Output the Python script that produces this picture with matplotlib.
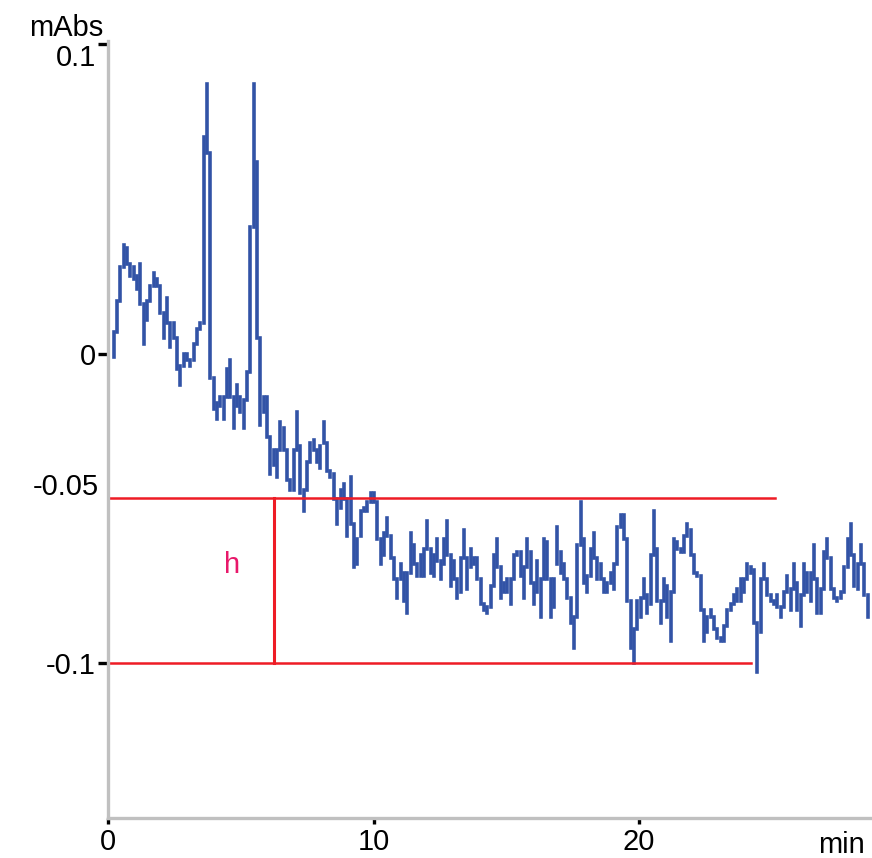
import numpy as np
import matplotlib
matplotlib.use("Agg")
import matplotlib.pyplot as plt

# baseline noise trace, drawn as min/max per screen column (units: 1e-3 mAbs)
t0 = 0.2      # min, first column
dt = 0.1258   # min per column
upper = [
    7, 17, 28, 35, 34, 29, 28, 25, 29, 16, 17, 22, 26, 24, 22,
    13, 18, 10, 10, 5, -4, 0, 0, -2, 3, 8, 10, 70, 87, 65,
    -8, -16, -14, -14, -5, -2, -14, -10, -14, -15, -6, 41, 87, 62, 5,
    -14, -14, -27, -31, -31, -22, -24, -31, -41, -31, -19, -30, -44, -35, -29,
    -28, -31, -30, -22, -29, -38, -39, -47, -44, -42, -47, -40, -55, -60, -51,
    -50, -48, -45, -45, -48, -60, -58, -53, -59, -66, -73, -68, -71, -71, -58,
    -62, -68, -65, -63, -54, -63, -65, -60, -67, -60, -54, -65, -67, -73, -66,
    -57, -66, -63, -66, -66, -73, -81, -82, -75, -65, -60, -69, -74, -73, -73,
    -65, -64, -64, -69, -60, -64, -74, -67, -73, -60, -61, -73, -73, -56, -64,
    -68, -73, -79, -85, -62, -48, -60, -72, -63, -58, -66, -68, -73, -74, -71,
    -68, -56, -52, -52, -60, -80, -89, -80, -79, -73, -78, -65, -51, -63, -80,
    -73, -75, -77, -60, -61, -63, -59, -55, -57, -65, -71, -72, -83, -85, -83,
    -85, -89, -92, -88, -83, -81, -78, -76, -73, -73, -68, -69, -70, -87, -73,
    -68, -73, -78, -80, -78, -82, -77, -72, -76, -68, -74, -78, -68, -71, -71,
    -62, -73, -76, -64, -60, -66, -76, -79, -77, -69, -60, -55, -65, -68, -62,
    -68, -78]
lower = [
    -1, 7, 17, 28, 29, 25, 24, 21, 16, 3, 11, 17, 22, 22, 13,
    5, 10, 2, 5, -5, -10, -4, -2, -4, -2, 3, 8, 10, 65, -8,
    -18, -21, -17, -21, -14, -14, -24, -17, -19, -24, -15, -6, 41, 5, -23,
    -19, -27, -39, -36, -40, -31, -31, -41, -44, -44, -31, -45, -51, -44, -35,
    -31, -35, -37, -29, -38, -40, -47, -55, -50, -47, -59, -55, -69, -68, -59,
    -51, -51, -48, -48, -60, -68, -65, -59, -66, -73, -79, -73, -80, -84, -71,
    -68, -72, -72, -72, -63, -71, -72, -67, -73, -68, -65, -75, -73, -79, -77,
    -66, -76, -69, -68, -73, -81, -83, -84, -82, -75, -69, -79, -77, -77, -81,
    -73, -65, -72, -79, -69, -74, -81, -77, -85, -73, -73, -85, -82, -68, -71,
    -73, -79, -87, -95, -85, -62, -74, -77, -72, -66, -73, -73, -77, -77, -74,
    -76, -68, -56, -60, -80, -95, -100, -89, -85, -79, -84, -81, -65, -80, -87,
    -80, -85, -93, -77, -63, -64, -64, -59, -65, -71, -72, -83, -93, -90, -85,
    -89, -92, -93, -93, -88, -83, -81, -80, -80, -77, -73, -71, -87, -103, -90,
    -73, -78, -80, -81, -82, -85, -82, -77, -83, -76, -83, -88, -78, -77, -80,
    -73, -84, -84, -76, -66, -76, -79, -80, -79, -77, -69, -65, -75, -76, -68,
    -78, -85]

# noise band markers
band_top = -0.0466
band_bottom = -0.1
band_top_end = 25.15
band_bottom_end = 24.25
h_pos = 6.25

yticks = [0.1, 0, -0.1]
ytick_labels = ["0.1", "0", "-0.1"]
xticks = [0, 10, 20]
xtick_labels = ["0", "10", "20"]

blue = "#3253a6"
red = "#ee1c25"
grey = "#c0c0c0"
font = ["Liberation Sans", "DejaVu Sans"]
fs = 21

assert len(upper) == len(lower)
t = t0 + dt * np.arange(len(upper))

fig = plt.figure(figsize=(8.72, 8.58), dpi=100)
ax = fig.add_axes([0.1243, 0.047, 0.8757, 0.905])

ax.vlines(t, np.array(lower) / 1000, np.array(upper) / 1000,
          colors=blue, linewidth=2.6, capstyle="projecting")

# h marker lines
ax.plot([0, band_top_end], [band_top, band_top], color=red, lw=1.8)
ax.plot([0, band_bottom_end], [band_bottom, band_bottom], color=red, lw=1.8)
ax.plot([h_pos, h_pos], [band_bottom, band_top], color=red, lw=2.2)
ax.text(4.65, -0.0684, "h", color="#e8186a", fontsize=fs, family=font,
        ha="center", va="center")

ax.set_xlim(0, 28.8)
ax.set_ylim(-0.15, 0.101)

for side in ["top", "right"]:
    ax.spines[side].set_visible(False)
for side in ["left", "bottom"]:
    ax.spines[side].set_color(grey)
    ax.spines[side].set_linewidth(2.4)

ax.set_yticks(yticks)
ax.set_yticklabels(ytick_labels, family=font, fontsize=fs)
ax.set_xticks(xticks)
ax.set_xticklabels(xtick_labels, family=font, fontsize=fs)
ax.tick_params(axis="y", length=7, width=2.4, color="black", pad=2)
ax.tick_params(axis="x", length=4.5, width=2.4, color="black", pad=3)
ax.get_yticklabels()[0].set_verticalalignment("top")

ax.text(-0.012, -0.0432, "-0.05", transform=ax.get_yaxis_transform(),
        ha="right", va="center", fontsize=fs, family=font)
fig.text(103 / 872, 1 - 28 / 858, "mAbs", ha="right", va="center",
         fontsize=fs, family=font)
fig.text(865 / 872, 1 - 845 / 858, "min", ha="right", va="center",
         fontsize=fs, family=font)

fig.savefig("out.png", dpi=100)
